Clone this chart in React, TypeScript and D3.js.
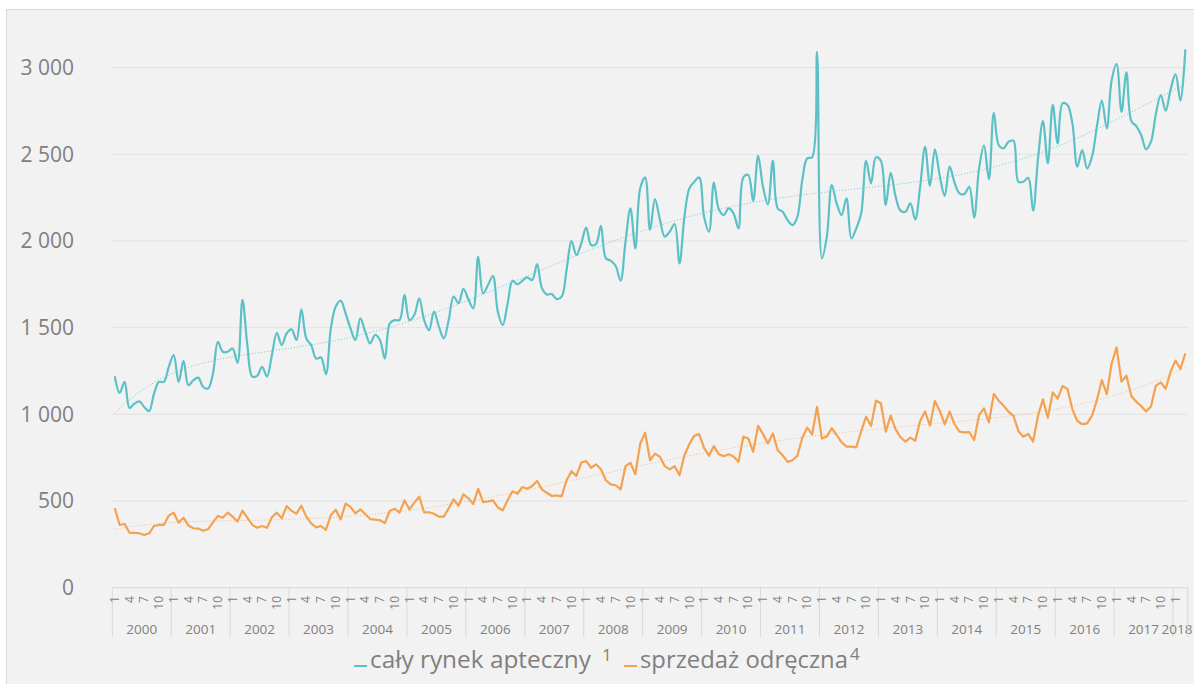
import React from 'react';
import * as d3 from 'd3';

const years = [2000, 2001, 2002, 2003, 2004, 2005, 2006, 2007, 2008, 2009, 2010, 2011, 2012, 2013, 2014, 2015, 2016, 2017, 2018];
const monthTicks = [1, 4, 7, 10];
const yTicks = [0, 500, 1000, 1500, 2000, 2500, 3000];
const seriesNames = ['cały rynek apteczny', 'sprzedaż odręczna'];
const seriesNotes = ['1', '4'];

// monthly values Jan 2000 – Mar 2018
const rynek = [
  1220, 1124, 1187, 1037, 1062, 1075, 1043, 1019, 1120, 1187, 1187, 1274,
  1342, 1187, 1309, 1168, 1197, 1212, 1158, 1149, 1236, 1419, 1361, 1361,
  1380, 1297, 1660, 1400, 1218, 1222, 1274, 1218, 1342, 1471, 1400, 1467,
  1490, 1429, 1606, 1438, 1400, 1322, 1328, 1232, 1496, 1622, 1656, 1583,
  1496, 1429, 1554, 1477, 1409, 1458, 1429, 1322, 1525, 1544, 1544, 1689,
  1544, 1573, 1670, 1544, 1486, 1593, 1506, 1438, 1544, 1680, 1641, 1724,
  1664, 1612, 1910, 1698, 1746, 1798, 1592, 1515, 1640, 1771, 1750, 1771,
  1790, 1775, 1867, 1727, 1692, 1694, 1665, 1679, 1833, 2000, 1919, 1987,
  2077, 1977, 1983, 2087, 1900, 1887, 1856, 1771, 1996, 2188, 1958, 2304,
  2367, 2064, 2242, 2125, 2025, 2054, 2098, 1871, 2140, 2304, 2342, 2367,
  2140, 2054, 2337, 2183, 2150, 2188, 2160, 2073, 2367, 2381, 2231, 2492,
  2313, 2212, 2462, 2188, 2169, 2121, 2092, 2140, 2352, 2477, 2483, 3092,
  1900, 2025, 2323, 2217, 2150, 2246, 2015, 2073, 2160, 2463, 2333, 2483,
  2463, 2208, 2394, 2256, 2175, 2169, 2217, 2125, 2313, 2544, 2319, 2529,
  2375, 2260, 2429, 2337, 2275, 2271, 2313, 2135, 2419, 2550, 2356, 2740,
  2554, 2535, 2573, 2579, 2342, 2342, 2365, 2175, 2477, 2692, 2448, 2785,
  2563, 2794, 2785, 2679, 2429, 2525, 2419, 2487, 2663, 2810, 2650, 2929,
  3021, 2746, 2973, 2692, 2663, 2612, 2529, 2573, 2733, 2842, 2752, 2875,
  2963, 2810, 3106,
];

const odreczna = [
  458, 362, 369, 317, 316, 314, 304, 314, 356, 362, 362, 416,
  433, 375, 404, 358, 343, 341, 329, 337, 377, 414, 404, 433,
  410, 381, 444, 404, 362, 346, 356, 346, 406, 433, 400, 471,
  443, 427, 473, 410, 371, 348, 356, 333, 419, 450, 394, 485,
  466, 429, 452, 425, 396, 393, 389, 373, 443, 456, 433, 504,
  452, 491, 525, 435, 435, 427, 410, 410, 458, 510, 473, 539,
  516, 482, 571, 494, 498, 504, 463, 446, 504, 556, 542, 581,
  571, 587, 616, 566, 548, 529, 533, 527, 620, 672, 645, 722,
  730, 691, 712, 683, 620, 596, 591, 567, 701, 720, 654, 832,
  894, 735, 774, 755, 701, 683, 701, 649, 764, 828, 876, 886,
  807, 761, 817, 770, 759, 770, 757, 726, 871, 861, 784, 934,
  886, 832, 890, 793, 764, 726, 735, 761, 865, 923, 884, 1044,
  861, 873, 920, 881, 839, 814, 814, 810, 904, 987, 933, 1079,
  1064, 900, 993, 914, 868, 843, 866, 848, 962, 1016, 935, 1077,
  1020, 943, 1016, 943, 900, 896, 898, 852, 996, 1035, 954, 1118,
  1079, 1050, 1016, 991, 904, 871, 887, 843, 993, 1087, 981, 1127,
  1091, 1164, 1147, 1029, 962, 943, 948, 993, 1083, 1198, 1116, 1295,
  1387, 1189, 1223, 1106, 1073, 1048, 1016, 1045, 1166, 1185, 1148, 1247,
  1310, 1262, 1352,
];

const TEAL = '#5cc1c6';
const ORANGE = '#f4a150';

// least-squares polynomial trend (like a spreadsheet polynomial trendline)
function polyTrend(values: number[], degree: number): number[] {
  const n = values.length;
  const h = (n - 1) / 2;
  const ts = values.map((_, i) => (i - h) / h);
  const m = degree + 1;
  const A: number[][] = Array.from({ length: m }, () => new Array(m + 1).fill(0));
  ts.forEach((t, i) => {
    const pw: number[] = [];
    for (let k = 0; k < 2 * m; k++) pw.push(Math.pow(t, k));
    for (let r = 0; r < m; r++) {
      for (let c = 0; c < m; c++) A[r][c] += pw[r + c];
      A[r][m] += values[i] * pw[r];
    }
  });
  for (let col = 0; col < m; col++) {
    let piv = col;
    for (let r = col + 1; r < m; r++) if (Math.abs(A[r][col]) > Math.abs(A[piv][col])) piv = r;
    [A[col], A[piv]] = [A[piv], A[col]];
    for (let r = 0; r < m; r++) {
      if (r === col) continue;
      const f = A[r][col] / A[col][col];
      for (let c = col; c <= m; c++) A[r][c] -= f * A[col][c];
    }
  }
  const coef = A.map((row, r) => row[m] / row[r]);
  return ts.map((t) => coef.reduce((s, c, k) => s + c * Math.pow(t, k), 0));
}

const fmt = d3.formatLocale({ thousands: ' ', grouping: [3], decimal: ',', currency: ['', ''] }).format(',');

export default function App() {
  const W = 1194;
  const H = 684;
  const n = rynek.length;
  const x = d3.scaleBand<number>().domain(d3.range(n)).range([112.3, 1187.8]).padding(0);
  const cx = (i: number) => (x(i) as number) + x.bandwidth() / 2;
  const y = d3.scaleLinear().domain([0, 3000]).range([587.7, 67.7]);
  const left = 112.3;
  const right = 1187.8;

  const smooth = d3.line<number>().x((_, i) => cx(i)).y((v) => y(v)).curve(d3.curveCatmullRom.alpha(0.5));
  const straight = d3.line<number>().x((_, i) => cx(i)).y((v) => y(v));

  const trendA = polyTrend(rynek, 6);
  const trendB = polyTrend(odreczna, 6);

  const font = "'Open Sans', 'Noto Sans', sans-serif";
  const grey = '#808080';

  return (
    <svg width={W} height={H} style={{ position: 'absolute', left: 0, top: 0, display: 'block' }}>
      <rect x={0} y={0} width={W} height={H} fill="#ffffff" />
      <rect x={6.5} y={9.5} width={W + 20} height={H + 20} fill="#f2f2f2" stroke="#d9d9d9" />

      {/* gridlines */}
      {yTicks.filter((t) => t > 0).map((t) => (
        <line key={t} x1={left} x2={right} y1={y(t)} y2={y(t)} stroke="#e2e2e2" strokeWidth={1} />
      ))}
      <line x1={left} x2={right} y1={y(0)} y2={y(0)} stroke="#d9d9d9" strokeWidth={1} />

      {/* y labels */}
      {yTicks.map((t) => (
        <text key={t} x={74} y={y(t)} dy="0.35em" textAnchor="end" fontFamily={font} fontSize={21} fill={grey}>
          {fmt(t)}
        </text>
      ))}

      {/* year separators and labels */}
      {years.map((yr, k) => {
        const s = x(12 * k) as number;
        const eIdx = Math.min(12 * k + 12, n);
        const e = eIdx >= n ? right : (x(eIdx) as number);
        const mid = Math.min((s + e) / 2, W - 17);
        return (
          <g key={yr}>
            <line x1={s} x2={s} y1={y(0)} y2={637} stroke="#d9d9d9" />
            <text x={mid} y={634} textAnchor="middle" fontFamily={font} fontSize={13.5} fill={grey}>
              {yr}
            </text>
          </g>
        );
      })}
      <line x1={right} x2={right} y1={y(0)} y2={637} stroke="#d9d9d9" />

      {/* month labels */}
      {years.map((yr, k) =>
        monthTicks.map((m) => {
          const i = 12 * k + m - 1;
          if (i >= n) return null;
          const px = cx(i);
          return (
            <text
              key={`${yr}-${m}`}
              transform={`translate(${px},596) rotate(-90)`}
              dy="0.35em"
              textAnchor="end"
              fontFamily={font}
              fontSize={12}
              fill={grey}
            >
              {m}
            </text>
          );
        })
      )}

      {/* trend lines */}
      <path d={straight(trendA) || ''} fill="none" stroke={TEAL} strokeOpacity={0.85} strokeWidth={1} strokeDasharray="1 2" />
      <path d={straight(trendB) || ''} fill="none" stroke={ORANGE} strokeOpacity={0.65} strokeWidth={1} strokeDasharray="1 2" />

      {/* series */}
      <path d={smooth(rynek) || ''} fill="none" stroke={TEAL} strokeWidth={2.2} strokeLinejoin="round" />
      <path d={straight(odreczna) || ''} fill="none" stroke={ORANGE} strokeWidth={2.2} strokeLinejoin="round" />

      {/* legend */}
      <line x1={354} x2={367} y1={666} y2={666} stroke={TEAL} strokeWidth={2} />
      <text x={370} y={668} fontFamily={font} fontSize={23} fill={grey} textLength={221} lengthAdjust="spacingAndGlyphs">
        {seriesNames[0]}
      </text>
      <text x={602} y={661} fontFamily={font} fontSize={17} fill={grey}>
        {seriesNotes[0]}
      </text>
      <line x1={624} x2={637} y1={666} y2={666} stroke={ORANGE} strokeWidth={2} />
      <text x={640} y={668} fontFamily={font} fontSize={23} fill={grey} textLength={208} lengthAdjust="spacingAndGlyphs">
        {seriesNames[1]}
      </text>
      <text x={850} y={660} fontFamily={font} fontSize={17} fill={grey}>
        {seriesNotes[1]}
      </text>
    </svg>
  );
}
